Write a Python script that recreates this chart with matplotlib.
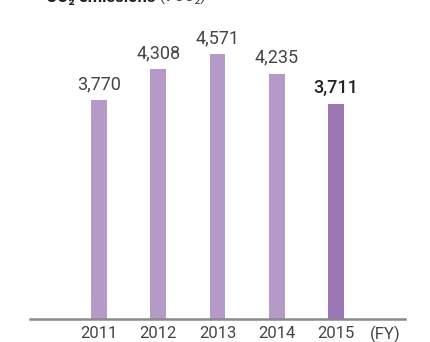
import matplotlib.pyplot as plt

plt.rcParams['font.family'] = ['Roboto', 'DejaVu Sans']

years = ['2011', '2012', '2013', '2014', '2015']
emissions = [3770, 4308, 4571, 4235, 3711]

BAR = '#b59ac8'
BAR_LATEST = '#9c77b3'
TEXT = '#444444'

fig = plt.figure(figsize=(4.30, 3.42), dpi=100)
ax = fig.add_axes([30 / 430, 23 / 342, 375 / 430, 319 / 342])

x = list(range(len(years)))
colors = [BAR] * (len(years) - 1) + [BAR_LATEST]
ax.bar(x, emissions, width=0.27, color=colors, zorder=2)

for i, v in enumerate(emissions):
    last = i == len(emissions) - 1
    ax.text(i, v + 120, f'{v:,}', ha='center', va='bottom',
            fontsize=13, color='#222222' if last else TEXT,
            fontweight='medium' if last else 'normal')

ax.set_xlim(-1.165, 5.165)
ax.set_ylim(0, 5503)

for s in ('top', 'right', 'left'):
    ax.spines[s].set_visible(False)
ax.spines['bottom'].set_color('#8a8a8a')
ax.spines['bottom'].set_linewidth(1.8)

ax.set_yticks([])
ax.set_xticks(x)
ax.set_xticklabels(years, fontsize=12, color=TEXT)
ax.tick_params(axis='x', length=0, pad=5)
ax.annotate('(FY)', xy=(4.83, 0), xycoords=('data', 'axes fraction'),
            xytext=(0, -5), textcoords='offset points',
            ha='center', va='top', fontsize=12, color=TEXT)

# heading sits partly above the top edge
t1 = fig.text(46 / 430, 1 - 5 / 342, 'CO₂ emissions', fontsize=12,
              fontweight='bold', color='#222222', va='bottom')
ax.annotate(' (t-CO₂)', xy=(1, 0), xycoords=t1, va='bottom', ha='left',
            fontsize=11, color=TEXT, annotation_clip=False)

fig.savefig('out.png', dpi=100)
